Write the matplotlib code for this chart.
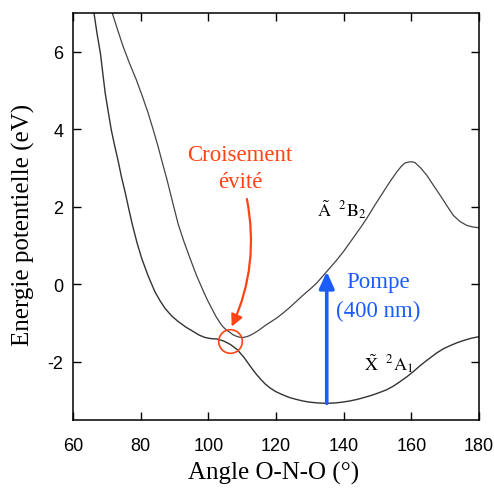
import matplotlib
matplotlib.use("Agg")
import matplotlib.pyplot as plt
from matplotlib.patches import FancyArrowPatch

# lower adiabatic surface (X 2A1)
angle_x = [66.2, 67.1, 68.1, 68.8, 69.5, 70.4, 71.3, 72.3, 73.3, 74.3, 75.4, 76.5,
           77.6, 78.9, 80.3, 82.2, 84.2, 85.7, 87.2, 89.1, 91.1, 93.3, 95.6, 97.3,
           99.0, 100.8, 102.5, 104.5, 106.5, 108.5, 110.5, 112.8, 114.1, 115.5,
           116.8, 118.2, 120.0, 122.0, 124.0, 126.1, 128.0, 130.0, 132.5, 135.0,
           137.3, 139.5, 141.7, 143.9, 146.0, 148.0, 150.3, 152.7, 154.6, 156.5,
           158.6, 160.6, 162.3, 164.0, 165.8, 167.5, 169.5, 171.5, 173.4, 175.4,
           177.7, 180.0]
energy_x = [7.0, 6.47, 5.96, 5.45, 4.94, 4.46, 3.99, 3.58, 3.2, 2.78, 2.38, 1.94,
            1.52, 1.08, 0.67, 0.22, -0.19, -0.42, -0.62, -0.81, -0.96, -1.1, -1.22, -1.31,
            -1.37, -1.40, -1.41, -1.46, -1.55, -1.68, -1.88, -2.16, -2.31, -2.45,
            -2.57, -2.67, -2.77, -2.85, -2.92, -2.97, -3.01, -3.04, -3.06, -3.07,
            -3.06, -3.04, -3.01, -2.97, -2.92, -2.87, -2.80, -2.72, -2.63, -2.52,
            -2.39, -2.25, -2.12, -2.0, -1.88, -1.77, -1.66, -1.58, -1.51, -1.45,
            -1.39, -1.35]

# upper adiabatic surface (A 2B2)
angle_a = [71.6, 73.2, 74.8, 76.7, 78.7, 80.5, 82.2, 83.7, 85.1, 86.4, 87.6, 88.7,
           89.9, 91.1, 92.8, 94.6, 96.5, 98.5, 99.7, 101.0, 102.2, 103.5, 104.3,
           105.0, 105.7, 106.4, 107.3, 108.3, 109.3, 110.3, 111.3, 112.3, 113.3,
           114.3, 115.6, 117.0, 118.6, 120.2, 122.1, 124.0, 126.0, 128.0, 130.0,
           132.0, 133.5, 135.0, 137.5, 139.9, 141.7, 143.5, 145.2, 146.8, 149.2,
           151.7, 153.7, 155.7, 157.0, 158.1, 159.5, 160.3, 161.1, 162.8, 164.6,
           166.5, 168.5, 170.5, 172.4, 174.4, 176.4, 178.2, 180.0]
energy_a = [7.0, 6.56, 6.14, 5.7, 5.28, 4.85, 4.42, 3.99, 3.57, 3.14, 2.76, 2.38,
            1.96, 1.55, 1.1, 0.67, 0.23, -0.17, -0.40, -0.62, -0.82, -1.0, -1.09,
            -1.15, -1.2, -1.24, -1.30, -1.34, -1.365, -1.37, -1.35, -1.32, -1.27,
            -1.22, -1.14, -1.05, -0.96, -0.87, -0.74, -0.6, -0.44, -0.28, -0.13,
            0.03, 0.18, 0.33, 0.58, 0.84, 1.06, 1.28, 1.49, 1.70, 2.04,
            2.38, 2.65, 2.90, 3.04, 3.13, 3.16, 3.16, 3.14, 3.0, 2.81,
            2.56, 2.30, 2.03, 1.78, 1.62, 1.52, 1.48, 1.46]

xticks = [60, 80, 100, 120, 140, 160, 180]
yticks = [-2, 0, 2, 4, 6]

crossing = (106.4, -1.46)      # avoided crossing
pump_angle = 135.0
pump_from, pump_to = -3.07, 0.33

RED = "#ff4315"
BLUE = "#1a5cff"

plt.rcParams["mathtext.fontset"] = "stix"
plt.rcParams["axes.unicode_minus"] = False
serif = ["Liberation Serif", "DejaVu Serif"]
narrow = ["Liberation Sans Narrow", "Liberation Sans", "DejaVu Sans"]

fig = plt.figure(figsize=(4.94, 4.89), dpi=100)
ax = fig.add_axes([0.1478, 0.139, 0.8218, 0.8324])

ax.plot(angle_x, energy_x, color="#333333", lw=1.0)
ax.plot(angle_a, energy_a, color="#444444", lw=0.9)

ax.set_xlim(60, 180)
ax.set_ylim(-3.5, 7)
ax.set_xticks(xticks)
ax.set_yticks(yticks)
ax.tick_params(direction="in", length=6, width=1, top=True, right=True)
ax.tick_params(axis="x", pad=12)
ax.tick_params(axis="y", pad=7)
for lab in ax.get_xticklabels() + ax.get_yticklabels():
    lab.set_family(narrow)
    lab.set_fontsize(13)
for s in ax.spines.values():
    s.set_linewidth(1.1)

# avoided crossing circle + curved arrow
ax.plot([crossing[0]], [crossing[1]], "o", ms=17, mfc="none", mec=RED, mew=1.2)
ax.text(109.4, 3.34, "Croisement", color=RED, fontsize=16.5, family=serif,
        ha="center", va="center")
ax.text(109.4, 2.65, "évité", color=RED, fontsize=16.5, family=serif,
        ha="center", va="center")
arr = FancyArrowPatch((111.4, 2.2), (106.9, -1.09), connectionstyle="arc3,rad=-0.16",
                      arrowstyle="-|>,head_length=7,head_width=3.5", color=RED,
                      lw=1.6, shrinkA=0, shrinkB=0)
ax.add_patch(arr)

# pump arrow
ax.annotate("", xy=(pump_angle, pump_to), xytext=(pump_angle, pump_from),
            arrowprops=dict(arrowstyle="-|>,head_length=1.0,head_width=0.45",
                            color=BLUE, lw=2.6, shrinkA=0, shrinkB=0))
ax.text(150.2, 0.07, "Pompe", color=BLUE, fontsize=16.5, family=serif,
        ha="center", va="center")
ax.text(150.2, -0.68, "(400 nm)", color=BLUE, fontsize=16.5, family=serif,
        ha="center", va="center")

# state labels
ax.text(132.1, 1.95, r"$\tilde{\rm A}\ \ ^2{\rm B}_2$", fontsize=13, ha="left", va="center")
ax.text(146.0, -2.03, r"$\tilde{\rm X}\ \ ^2{\rm A}_1$", fontsize=13, ha="left", va="center")

fig.text(0.553, 0.02, "Angle O-N-O (°)", fontsize=18, family=serif,
         ha="center", va="baseline")
fig.text(0.047, 0.54, "Energie potentielle (eV)", fontsize=18, family=serif,
         ha="center", va="center", rotation=90)

fig.savefig("out.png", dpi=100)
